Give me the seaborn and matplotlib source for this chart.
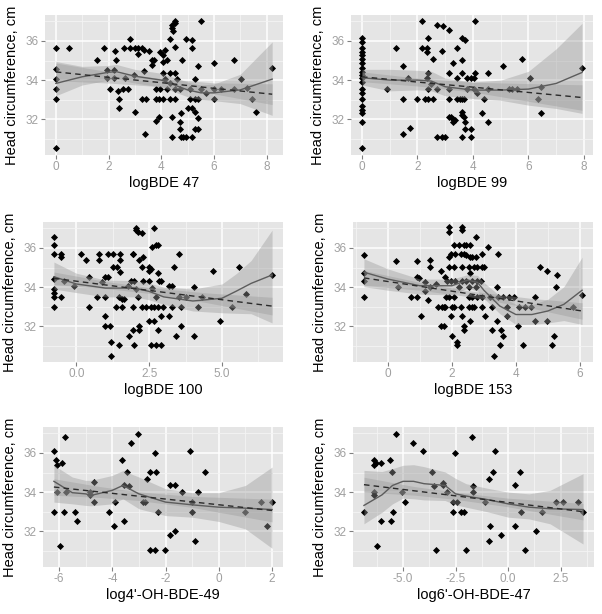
import pandas as pd
import matplotlib
matplotlib.use("Agg")
import matplotlib.pyplot as plt
import seaborn as sns
from matplotlib.ticker import MultipleLocator, AutoMinorLocator, FormatStrFormatter

# ---- data: (exposure, head circumference) ----
bde47_pts = [(0, 35.65), (0, 34.55), (0, 34.05), (0, 33.55), (0, 33.05), (0, 30.55),
             (0.5, 35.65), (1.57, 35.05), (1.84, 35.65), (1.94, 34.5), (1.96, 34.1), (2.19, 34.5),
             (2.19, 34.1), (2.23, 35.5), (2.07, 33.55), (2.3, 35.05), (2.35, 33.45), (2.4, 33.05),
             (2.4, 32.6), (2.55, 33.55), (2.73, 33.55), (2.57, 35.65), (2.82, 36.1), (2.82, 35.65),
             (3.0, 35.65), (3.0, 32.35), (3.12, 35.35), (3.12, 35.65), (3.26, 35.65), (3.26, 33.05),
             (3.35, 35.55), (3.35, 34.45), (2.95, 34.25), (2.63, 34.1), (3.42, 33.05), (3.39, 31.25),
             (3.64, 35.05), (3.64, 34.75), (3.55, 35.5), (3.74, 35.05), (3.8, 33.55), (3.8, 33.05),
             (3.9, 33.05), (3.82, 31.9), (3.9, 32.1), (3.95, 35.45), (3.95, 33.55), (4.08, 34.95),
             (4.08, 35.3), (4.08, 33.05), (4.08, 34.35), (4.14, 35.55), (4.14, 34.05), (4.2, 33.55),
             (4.2, 35.05), (4.33, 36.1), (4.33, 34.35), (4.33, 33.85), (4.33, 33.05), (4.4, 31.1),
             (4.4, 32.1), (4.41, 36.8), (4.41, 36.65), (4.45, 36.5), (4.51, 37.0), (4.51, 36.9),
             (4.51, 35.7), (4.51, 34.35), (4.51, 33.55), (4.51, 33.05), (4.58, 34.05), (4.7, 31.5),
             (4.7, 31.85), (4.7, 33.55), (4.76, 32.3), (4.76, 31.1), (4.8, 35.05), (4.83, 31.1),
             (4.93, 36.1), (4.93, 31.1), (5.02, 32.6), (5.08, 33.05), (5.08, 33.55), (5.18, 35.65),
             (5.18, 36.05), (5.18, 32.6), (5.18, 31.1), (5.27, 34.05), (5.27, 33.05), (5.27, 32.35),
             (5.27, 31.5), (5.39, 34.7), (5.39, 33.05), (5.39, 32.05), (5.39, 31.5), (5.52, 37.0),
             (5.52, 33.55), (5.7, 33.35), (6.02, 34.85), (6.02, 33.05), (6.02, 33.55), (6.27, 33.55),
             (6.77, 35.05), (6.77, 33.55), (7.02, 34.05), (7.27, 33.6), (7.46, 33.05), (7.61, 32.35),
             (8.21, 34.6)]

bde99_pts = [(0, 36.14), (0, 35.97), (0, 35.66), (0, 35.45), (0, 35.28), (0, 35.1), (0, 34.89),
             (0, 34.6), (0, 34.43), (0, 34.26), (0, 34.1), (0, 33.9), (0, 33.57), (0, 33.35),
             (0, 33.06), (0, 32.68), (0, 32.46), (0, 32.3), (0, 31.86), (0, 30.55),
             (0.9, 33.57), (1.24, 35.66), (1.48, 34.72), (1.48, 33.06), (1.48, 31.27), (1.66, 34.1),
             (1.72, 31.55), (1.99, 33.06), (2.18, 37.0), (2.18, 35.66), (2.27, 33.06), (2.33, 35.66),
             (2.33, 35.45), (2.33, 34.1), (2.39, 36.14), (2.39, 34.34), (2.39, 33.57), (2.39, 33.06),
             (2.48, 33.8), (2.57, 35.06), (2.57, 33.06), (2.69, 36.82), (2.69, 33.57), (2.69, 31.1),
             (2.87, 35.49), (2.87, 31.1), (2.93, 36.74), (2.99, 31.1), (3.12, 36.56), (3.12, 34.34),
             (3.12, 33.06), (3.12, 33.57), (3.12, 32.12), (3.2, 32.12), (3.27, 34.85), (3.27, 32.03),
             (3.27, 31.86), (3.36, 31.95), (3.44, 35.66), (3.44, 34.1), (3.44, 33.06), (3.52, 33.06),
             (3.6, 36.14), (3.6, 35.03), (3.6, 34.34), (3.6, 33.06), (3.6, 32.38), (3.6, 32.2),
             (3.6, 31.1), (3.66, 33.06), (3.66, 32.12), (3.72, 36.05), (3.72, 31.52), (3.72, 31.86),
             (3.78, 34.1), (3.78, 33.57), (3.93, 34.1), (3.93, 31.52), (3.93, 31.1), (4.02, 33.57),
             (4.02, 34.1), (4.08, 37.0), (4.08, 34.34), (4.15, 33.35), (4.33, 32.3), (4.41, 33.06),
             (4.53, 34.34), (4.53, 33.57), (4.53, 31.86), (5.09, 34.72), (5.3, 33.57), (5.42, 33.57),
             (5.6, 33.57), (5.78, 35.06), (6.06, 34.1), (6.35, 33.06), (6.45, 32.3), (6.45, 33.66),
             (7.93, 34.63)]

bde100_pts = [(-0.77, 36.57), (-0.77, 36.14), (-0.77, 35.67), (-0.77, 34.41), (-0.77, 33.9),
              (-0.77, 33.47), (-0.77, 32.98), (-0.77, 33.72), (-0.54, 35.67), (-0.54, 35.53),
              (-0.54, 33.47), (-0.42, 34.33), (-0.08, 34.07), (0.15, 35.67), (0.34, 35.4),
              (0.44, 34.53), (0.44, 32.98), (0.7, 33.47), (0.78, 35.36), (0.78, 35.67), (0.87, 34.24),
              (1.0, 34.5), (1.0, 33.47), (1.0, 32.52), (1.0, 32.0), (1.09, 35.67), (1.09, 34.5),
              (1.15, 32.0), (1.18, 31.19), (1.18, 30.5), (1.27, 35.02), (1.27, 35.67), (1.35, 32.98),
              (1.41, 35.02), (1.47, 31.02), (1.47, 33.47), (1.49, 35.4), (1.49, 35.67), (1.49, 34.76),
              (1.56, 32.98), (1.56, 33.38), (1.64, 33.38), (1.76, 34.07), (1.81, 31.48), (1.87, 34.33),
              (1.93, 32.98), (1.93, 31.83), (1.93, 35.67), (1.93, 35.71), (1.98, 31.02), (1.98, 34.33),
              (2.04, 37.0), (2.04, 36.91), (2.04, 33.9), (2.1, 36.83), (2.1, 33.47), (2.16, 35.4),
              (2.16, 32.0), (2.16, 31.83), (2.25, 36.74), (2.25, 35.02), (2.25, 32.98), (2.3, 34.33),
              (2.3, 35.53), (2.39, 32.98), (2.48, 32.29), (2.48, 35.02), (2.48, 34.84), (2.48, 34.33),
              (2.56, 34.93), (2.56, 31.02), (2.56, 32.98), (2.61, 36.05), (2.61, 33.95), (2.67, 37.0),
              (2.67, 32.29), (2.67, 32.98), (2.73, 36.14), (2.73, 33.47), (2.73, 31.02), (2.79, 36.17),
              (2.79, 34.71), (2.79, 31.83), (2.79, 32.98), (2.85, 34.33), (2.9, 34.33), (2.9, 32.52),
              (2.9, 31.02), (2.96, 32.98), (3.19, 32.52), (3.19, 34.07), (3.3, 32.98), (3.3, 34.07),
              (3.36, 35.02), (3.42, 31.48), (3.53, 35.67), (3.53, 33.47), (3.59, 32.98), (3.59, 32.0),
              (3.76, 33.47), (4.05, 34.02), (4.05, 31.48), (4.16, 32.98), (4.33, 33.47), (4.68, 34.84),
              (4.93, 32.29), (5.34, 32.98), (5.6, 35.05), (5.83, 33.64), (6.72, 34.62)]

bde153_pts = [(-0.75, 35.66), (-0.75, 34.71), (-0.75, 34.33), (-0.75, 33.5), (0.24, 35.33),
              (0.31, 34.02), (0.71, 33.5), (0.9, 35.31), (0.9, 34.5), (0.9, 33.5), (0.97, 34.47),
              (1.02, 32.52), (1.15, 33.81), (1.15, 34.24), (1.26, 33.33), (1.33, 35.4), (1.33, 35.02),
              (1.33, 34.02), (1.49, 34.15), (1.56, 32.98), (1.67, 34.84), (1.67, 32.0), (1.7, 32.98),
              (1.75, 32.0), (1.75, 32.98), (1.8, 32.98), (1.8, 34.5), (1.82, 33.5), (1.85, 34.33),
              (1.9, 37.09), (1.9, 36.83), (1.9, 35.53), (1.9, 35.02), (1.9, 33.5), (1.98, 35.71),
              (1.98, 34.33), (1.98, 32.52), (2.01, 31.48), (2.01, 32.98), (2.06, 36.14), (2.06, 35.02),
              (2.06, 33.5), (2.06, 32.98), (2.11, 35.71), (2.11, 34.33), (2.15, 31.22), (2.15, 31.05),
              (2.22, 36.14), (2.22, 33.98), (2.27, 35.71), (2.27, 32.98), (2.32, 37.09), (2.32, 36.91),
              (2.32, 32.52), (2.32, 35.02), (2.32, 34.33), (2.37, 36.17), (2.37, 35.71), (2.37, 32.0),
              (2.37, 31.83), (2.43, 35.66), (2.43, 34.33), (2.43, 36.14), (2.53, 35.02), (2.53, 33.5),
              (2.53, 32.98), (2.53, 34.02), (2.58, 36.14), (2.58, 35.53), (2.58, 34.71), (2.58, 32.29),
              (2.64, 33.5), (2.64, 32.98), (2.64, 35.53), (2.64, 34.33), (2.69, 32.98), (2.69, 35.02),
              (2.74, 36.57), (2.74, 35.53), (2.74, 34.02), (2.79, 35.02), (2.79, 33.5), (2.79, 34.33),
              (2.9, 34.33), (2.95, 35.71), (2.95, 35.02), (2.95, 32.98), (2.95, 33.5), (3.0, 35.02),
              (3.05, 32.52), (3.14, 36.05), (3.2, 33.5), (3.26, 32.98), (3.26, 31.83), (3.31, 30.5),
              (3.4, 34.02), (3.4, 32.29), (3.44, 35.67), (3.44, 33.5), (3.5, 31.05), (3.54, 31.83),
              (3.6, 31.48), (3.6, 33.5), (3.73, 32.98), (3.73, 32.52), (3.78, 33.5), (3.94, 33.5),
              (4.06, 32.0), (4.09, 32.98), (4.23, 31.02), (4.3, 32.98), (4.46, 32.98), (4.61, 32.29),
              (4.61, 33.5), (4.75, 35.02), (4.98, 34.84), (4.98, 32.29), (5.14, 31.02), (5.19, 31.48),
              (5.24, 34.02), (5.29, 34.64), (5.79, 32.98), (6.07, 33.6)]

oh49_pts = [(-6.19, 36.1), (-6.19, 33.0), (-6.12, 35.66), (-6.06, 35.4), (-6.06, 34.03), (-5.98, 31.23),
            (-5.88, 35.49), (-5.81, 33.0), (-5.78, 36.82), (-5.75, 34.03), (-5.4, 33.0), (-5.31, 32.5),
            (-4.85, 33.83), (-4.85, 34.03), (-4.69, 33.49), (-4.69, 34.51), (-4.13, 33.0), (-3.94, 32.29),
            (-3.88, 33.49), (-3.63, 35.66), (-3.56, 34.34), (-3.56, 32.5), (-3.46, 35.03), (-3.38, 34.3),
            (-3.31, 36.51), (-3.03, 36.99), (-2.84, 33.49), (-2.78, 33.49), (-2.69, 34.68), (-2.6, 35.03),
            (-2.6, 31.06), (-2.41, 36.0), (-2.41, 31.06), (-2.35, 35.03), (-2.28, 33.0), (-2.03, 31.06),
            (-1.85, 34.34), (-1.85, 31.81), (-1.63, 34.34), (-1.63, 32.0), (-1.4, 34.03), (-1.1, 36.1),
            (-1.0, 33.49), (-1.0, 33.0), (-0.88, 31.52), (-0.78, 34.03), (-0.52, 35.03), (1.0, 33.0),
            (1.6, 33.49), (1.8, 32.29), (2.0, 33.49)]

oh47_pts = [(-6.86, 33.0), (-6.38, 35.66), (-6.38, 35.4), (-6.38, 33.83), (-6.38, 34.03), (-6.27, 35.49),
            (-6.22, 31.23), (-6.06, 32.5), (-6.06, 35.49), (-5.63, 35.66), (-5.56, 32.5), (-5.52, 35.03),
            (-5.48, 33.0), (-5.32, 36.99), (-5.03, 34.03), (-4.89, 33.49), (-4.52, 36.51), (-4.05, 36.1),
            (-3.6, 35.03), (-3.54, 34.3), (-3.41, 31.06), (-3.1, 34.34), (-3.1, 34.48), (-2.89, 34.03),
            (-2.62, 33.49), (-2.62, 33.0), (-2.51, 36.0), (-2.41, 33.49), (-2.22, 33.0), (-2.11, 33.0),
            (-1.98, 31.06), (-1.7, 36.82), (-1.65, 34.3), (-1.65, 34.03), (-1.11, 33.49), (-0.92, 34.68),
            (-0.92, 31.52), (-0.87, 32.29), (-0.71, 35.03), (-0.63, 36.1), (-0.35, 31.81), (0.32, 34.34),
            (0.32, 32.29), (0.56, 35.03), (0.63, 33.0), (0.79, 31.06), (1.35, 32.0), (1.63, 33.0),
            (2.3, 33.49), (2.62, 33.49), (3.33, 33.49), (3.57, 33.0)]

# ---- loess smooths (fit, band low, band high) ----
bde47_lo_x = [0, 1, 2, 2.3, 3, 4, 5, 5.5, 6, 7, 8.21]
bde47_lo_y = [33.83, 34.17, 34.4, 34.43, 34.2, 34.0, 33.5, 33.35, 33.35, 33.5, 34.05]
bde47_lo_min = [33.2, 33.75, 34.0, 34.05, 33.85, 33.65, 33.15, 33.0, 32.95, 32.8, 32.2]
bde47_lo_max = [34.95, 34.7, 34.75, 34.8, 34.55, 34.35, 33.9, 33.75, 33.8, 34.3, 35.95]

bde99_lo_x = [0, 1, 2, 2.5, 3, 4, 5, 6, 7, 7.93]
bde99_lo_y = [34.12, 34.0, 34.0, 33.95, 33.66, 33.49, 33.49, 33.54, 33.83, 34.39]
bde99_lo_min = [33.75, 33.45, 33.5, 33.45, 33.2, 33.06, 32.97, 32.72, 32.55, 32.3]
bde99_lo_max = [34.55, 34.55, 34.5, 34.45, 34.1, 33.9, 34.0, 34.45, 35.6, 36.9]

bde100_lo_x = [-0.77, 0, 1, 2, 2.5, 3, 4, 5, 5.5, 6, 6.72]
bde100_lo_y = [34.53, 34.16, 33.95, 33.95, 33.78, 33.5, 33.29, 33.43, 33.8, 34.19, 34.62]
bde100_lo_min = [33.9, 33.72, 33.5, 33.5, 33.35, 33.12, 32.78, 32.69, 32.66, 32.64, 32.17]
bde100_lo_max = [35.28, 34.71, 34.36, 34.33, 34.2, 34.0, 33.9, 34.16, 34.7, 35.36, 36.91]

bde153_lo_x = [-0.75, 0, 1, 2, 2.5, 2.8, 3, 3.5, 4, 4.5, 5, 5.5, 6.07]
bde153_lo_y = [34.76, 34.41, 34.07, 34.07, 34.36, 34.24, 33.84, 33.03, 32.6, 32.6, 32.78, 33.12, 33.84]
bde153_lo_min = [34.02, 33.84, 33.64, 33.6, 33.95, 33.8, 33.43, 32.64, 32.09, 32.1, 32.17, 32.29, 32.09]
bde153_lo_max = [35.45, 34.93, 34.41, 34.41, 34.64, 34.6, 34.24, 33.55, 33.12, 33.1, 33.38, 34.02, 35.53]

oh49_lo_x = [-6.19, -5.5, -5, -4.8, -4, -3.6, -3, -2, -1, 0, 1, 2]
oh49_lo_y = [34.55, 33.97, 33.91, 33.83, 34.09, 34.34, 33.91, 33.49, 33.35, 33.23, 33.18, 33.11]
oh49_lo_min = [33.49, 33.4, 33.32, 33.3, 33.4, 33.66, 33.15, 32.8, 32.72, 32.5, 32.12, 31.13]
oh49_lo_max = [35.37, 34.77, 34.6, 34.6, 34.85, 35.1, 34.77, 34.17, 33.97, 33.97, 34.34, 35.28]

oh47_lo_x = [-6.86, -6, -5.5, -5, -4.5, -4, -3, -2.5, -2, -1, 0, 1, 2, 3.57]
oh47_lo_y = [33.32, 33.86, 34.34, 34.55, 34.55, 34.43, 34.34, 33.91, 33.8, 33.62, 33.4, 33.23, 33.15, 33.11]
oh47_lo_min = [32.38, 32.97, 33.4, 33.69, 33.66, 33.6, 33.57, 33.35, 33.23, 33.0, 32.72, 32.63, 32.38, 31.35]
oh47_lo_max = [35.11, 35.05, 35.2, 35.37, 35.4, 35.3, 35.03, 34.7, 34.43, 34.2, 34.0, 33.91, 34.09, 34.94]

# ---- linear fits (fit, band low, band high) ----
bde47_lm_x = [0, 2, 4, 6, 8.21]
bde47_lm_y = [34.42, 34.14, 33.87, 33.58, 33.28]
bde47_lm_min = [33.97, 33.85, 33.66, 33.3, 32.75]
bde47_lm_max = [34.87, 34.43, 34.08, 33.86, 33.81]

bde99_lm_x = [0, 2, 4, 6, 7.93]
bde99_lm_y = [34.17, 33.9, 33.64, 33.37, 33.11]
bde99_lm_min = [33.92, 33.7, 33.39, 32.92, 32.46]
bde99_lm_max = [34.42, 34.1, 33.89, 33.82, 33.76]

bde100_lm_x = [-0.77, 1, 2.5, 4.5, 6.72]
bde100_lm_y = [34.45, 34.11, 33.83, 33.45, 33.03]
bde100_lm_min = [34.13, 33.93, 33.68, 33.2, 32.58]
bde100_lm_max = [34.77, 34.29, 33.98, 33.7, 33.48]

bde153_lm_x = [-0.75, 1, 2.5, 4.5, 6.07]
bde153_lm_y = [34.47, 34.04, 33.67, 33.17, 32.78]
bde153_lm_min = [34.09, 33.84, 33.52, 32.92, 32.36]
bde153_lm_max = [34.85, 34.24, 33.82, 33.42, 33.2]

oh49_lm_x = [-6.19, -4.5, -3, -1, 2]
oh49_lm_y = [34.26, 34.01, 33.79, 33.5, 33.06]
oh49_lm_min = [33.84, 33.73, 33.57, 33.22, 32.48]
oh49_lm_max = [34.68, 34.29, 34.01, 33.78, 33.64]

oh47_lm_x = [-6.86, -4.5, -2.5, 0, 3.57]
oh47_lm_y = [34.38, 34.07, 33.81, 33.47, 33.0]
oh47_lm_min = [34.0, 33.85, 33.63, 33.25, 32.58]
oh47_lm_max = [34.76, 34.29, 33.99, 33.69, 33.42]

x_labels = ["logBDE 47", "logBDE 99", "logBDE 100", "logBDE 153", "log4'-OH-BDE-49", "log6'-OH-BDE-47"]
x_steps = [2, 2, 2.5, 2, 2, 2.5]
y_label = "Head circumference, cm"
y_range = (30.5, 37.0)

plt.rcParams['font.family'] = ['Liberation Sans', 'DejaVu Sans']
plt.rcParams['axes.unicode_minus'] = False

panels = [
    (bde47_pts, bde47_lo_x, bde47_lo_y, bde47_lo_min, bde47_lo_max, bde47_lm_x, bde47_lm_y, bde47_lm_min, bde47_lm_max),
    (bde99_pts, bde99_lo_x, bde99_lo_y, bde99_lo_min, bde99_lo_max, bde99_lm_x, bde99_lm_y, bde99_lm_min, bde99_lm_max),
    (bde100_pts, bde100_lo_x, bde100_lo_y, bde100_lo_min, bde100_lo_max, bde100_lm_x, bde100_lm_y, bde100_lm_min, bde100_lm_max),
    (bde153_pts, bde153_lo_x, bde153_lo_y, bde153_lo_min, bde153_lo_max, bde153_lm_x, bde153_lm_y, bde153_lm_min, bde153_lm_max),
    (oh49_pts, oh49_lo_x, oh49_lo_y, oh49_lo_min, oh49_lo_max, oh49_lm_x, oh49_lm_y, oh49_lm_min, oh49_lm_max),
    (oh47_pts, oh47_lo_x, oh47_lo_y, oh47_lo_min, oh47_lo_max, oh47_lm_x, oh47_lm_y, oh47_lm_min, oh47_lm_max),
]

# panel boxes in pixels: left, top, right, bottom
boxes = [(45, 15, 283, 155), (351, 15, 593, 155),
         (43, 222, 283, 362), (353, 222, 593, 362),
         (43, 427, 283, 567), (353, 427, 594, 567)]

W, H = 602, 614
fig = plt.figure(figsize=(W / 100, H / 100), dpi=100)
band = '#999999'

for i, (pts, lx, ly, lmin, lmax, mx, my, mmin, mmax) in enumerate(panels):
    l, t, r, b = boxes[i]
    ax = fig.add_axes([l / W, 1 - b / H, (r - l) / W, (b - t) / H])
    df = pd.DataFrame(pts, columns=['x', 'y'])

    sns.scatterplot(data=df, x='x', y='y', ax=ax, marker='D', color='black', s=13,
                    linewidth=0, zorder=3)
    ax.fill_between(lx, lmin, lmax, color=band, alpha=0.4, lw=0, zorder=4)
    ax.fill_between(mx, mmin, mmax, color=band, alpha=0.4, lw=0, zorder=4)
    sns.lineplot(x=lx, y=ly, ax=ax, color='#5c5c5c', lw=1.0, zorder=5)
    sns.lineplot(x=mx, y=my, ax=ax, color='#2a2a2a', lw=1.0, linestyle=(0, (4, 3)), zorder=5)

    xr = df.x.max() - df.x.min()
    ax.set_xlim(df.x.min() - 0.05 * xr, df.x.max() + 0.05 * xr)
    yr = y_range[1] - y_range[0]
    ax.set_ylim(y_range[0] - 0.05 * yr, y_range[1] + 0.05 * yr)

    ax.xaxis.set_major_locator(MultipleLocator(x_steps[i]))
    ax.xaxis.set_minor_locator(AutoMinorLocator(2))
    ax.yaxis.set_major_locator(MultipleLocator(2))
    ax.yaxis.set_minor_locator(AutoMinorLocator(2))
    if x_steps[i] == 2.5:
        ax.xaxis.set_major_formatter(FormatStrFormatter('%.1f'))
    else:
        ax.xaxis.set_major_formatter(FormatStrFormatter('%d'))

    ax.set_facecolor('#E5E5E5')
    ax.set_axisbelow(True)
    ax.grid(which='major', color='white', lw=1.1)
    ax.grid(which='minor', color='#F4F4F4', lw=0.6)
    for s in ax.spines.values():
        s.set_visible(False)
    ax.tick_params(which='major', length=3, width=0.8, color='#808080',
                   labelcolor='#a0a0a0', labelsize=8.5, pad=1.5)
    ax.tick_params(which='minor', length=0)

    ax.set_xlabel(x_labels[i], fontsize=10.5, labelpad=2)
    ax.set_ylabel(y_label, fontsize=10.5, labelpad=5)

fig.savefig('out.png', dpi=100, facecolor='white')
